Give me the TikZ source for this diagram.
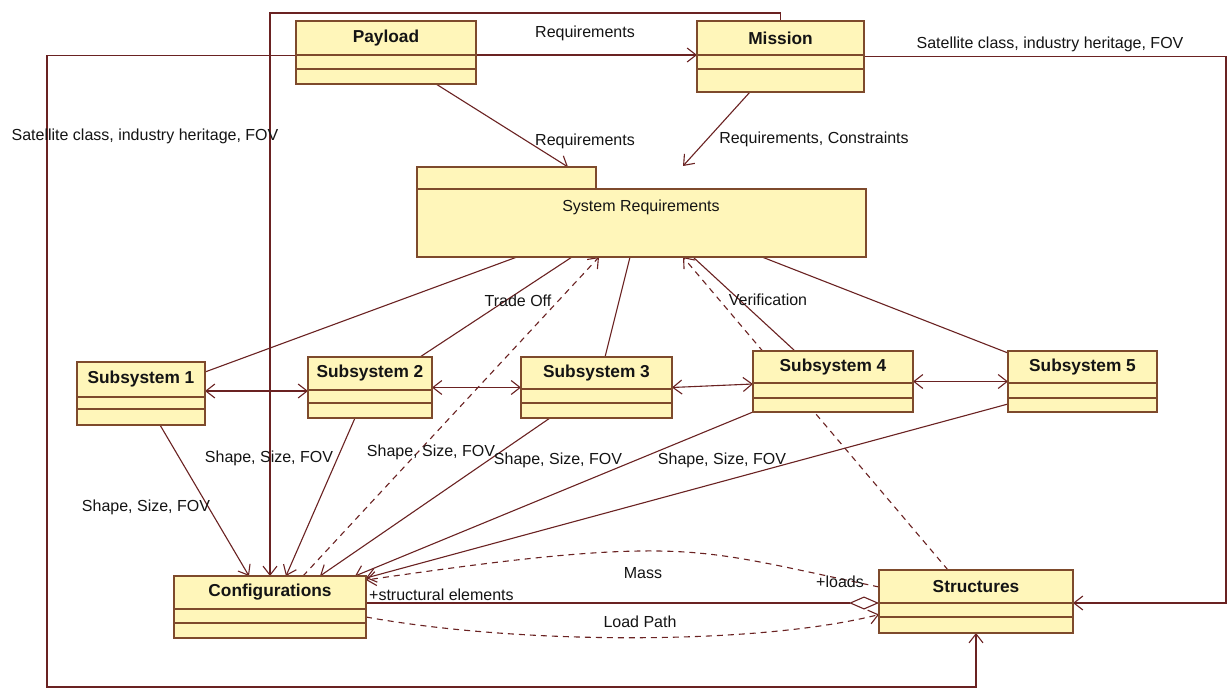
\documentclass[tikz,border=0pt]{standalone}
\usepackage{fontspec}
\setmainfont{Liberation Sans}
\usetikzlibrary{arrows.meta,backgrounds}

\definecolor{umlfill}{HTML}{FFF6BA}
\definecolor{umledge}{HTML}{7E4A2C}
\definecolor{wirecol}{HTML}{6A2222}
\definecolor{ink}{HTML}{141414}

\tikzset{
  umlcls/.style={rectangle, draw=umledge, fill=umlfill, line width=1.4pt, inner sep=0pt, outer sep=0pt},
  umlsep/.style={draw=umledge, line width=1.4pt},
  umltitle/.style={font=\fontsize{17.3}{19}\selectfont\bfseries, text=ink, inner sep=0pt},
  lbl/.style={font=\fontsize{16}{18}\selectfont, text=ink, inner sep=0pt},
  wire/.style={draw=wirecol, line width=1.1pt},
  dwire/.style={wire, dash pattern=on 6pt off 5pt},
  tip/.style={-{Straight Barb[length=9pt,width=14pt]}},
  bitip/.style={{Straight Barb[length=9pt,width=14pt]}-{Straight Barb[length=9pt,width=14pt]}},
  agg/.style={-{Diamond[length=30pt,width=13pt,fill=white]}},
}

% class box: name, x1, y1, x2, y2, first separator, second separator, title
\newcommand{\umlclass}[8]{%
  \node[umlcls, anchor=north west, minimum width={#4-#2}, minimum height={#5-#3}] (#1) at (#2,#3) {};
  \draw[umlsep] (#2,#6) -- (#4,#6) (#2,#7) -- (#4,#7);
  \node[umltitle] (#1-t) at ({(#2+#4)/2},{(#3+#6)/2}) {#8};}

\begin{document}
\begin{tikzpicture}[x=1pt,y=-1pt]
\useasboundingbox (0,0) rectangle (1229,690);

% classes
\umlclass{pay}{296}{21}{476}{84}{55}{69}{Payload}
\umlclass{mis}{697}{21}{864}{92}{55}{69}{Mission}
\umlclass{sa}{77}{362}{205}{425}{397}{409}{Subsystem 1}
\umlclass{sb}{308}{357}{432}{418}{390}{403}{Subsystem 2}
\umlclass{sc}{521}{357}{672}{418}{389}{403}{Subsystem 3}
\umlclass{sd}{753}{351}{913}{412}{383}{398}{Subsystem 4}
\umlclass{se}{1008}{351}{1157}{412}{383}{398}{Subsystem 5}
\umlclass{conf}{174}{576}{366}{638}{609}{623}{Configurations}
\umlclass{str}{879}{570}{1073}{633}{603}{617}{Structures}

% package
\node[umlcls, anchor=north west, minimum width=179, minimum height=22] (tab) at (417,167) {};
\node[umlcls, anchor=north west, minimum width=449, minimum height=68] (sys) at (417,189) {};
\node[lbl] (sys-t) at (641,207) {System Requirements};

\begin{pgfonlayer}{background}
\fill[white] (0,0) rectangle (1229,690);
\coordinate (reqpt) at (683,166);
\coordinate (railR) at (1226,0);
\coordinate (railL) at (47,687);
\coordinate (railT) at (0,13);

% top level
\draw[wire,tip] ([yshift=-2.5pt]pay.east) -- ([yshift=1.5pt]mis.west);
\draw[wire,tip] ([xshift=50pt]pay.south) -- ([xshift=61.5pt]tab.north);
\draw[wire,tip] ([xshift=-30.5pt]mis.south) -- (reqpt);
\draw[wire,tip] (mis.east) -- (mis.east -| railR) |- ([yshift=-1.5pt]str.east);
\draw[wire,tip] ([yshift=-3pt]pay.west) -| (railL) -| (str.south);
\draw[wire,tip] (mis.north) |- (conf.north |- railT) -- (conf.north);

% subsystems to requirements
\draw[wire] ([yshift=-10pt]sa.north east) -- ([xshift=-124.5pt]sys.south);
\draw[wire] ([xshift=50pt]sb.north) -- ([xshift=-69.5pt]sys.south);
\draw[wire] ([xshift=8.5pt]sc.north) -- ([xshift=-11.5pt]sys.south);
\draw[wire] ([xshift=-38pt]sd.north) -- ([xshift=51.5pt]sys.south);
\draw[wire] ([yshift=-2pt]se.north west) -- ([xshift=120.5pt]sys.south);
\draw[dwire,tip] ([xshift=33pt]conf.north) -- ([xshift=-42.5pt]sys.south);
\draw[dwire,tip] ([xshift=-28pt]str.north) -- ([xshift=41.5pt]sys.south);

% subsystem chain
\draw[wire,bitip] ([yshift=2.5pt]sa.east) -- ([yshift=-3.5pt]sb.west);
\draw[wire,bitip] (sb.east) -- (sc.west);
\draw[wire,bitip] (sc.east) -- ([yshift=-2.5pt]sd.west);
\draw[wire,bitip] (sd.east) -- (se.west);

% subsystems to configurations
\draw[wire,tip] ([xshift=19pt]sa.south) -- ([xshift=-21pt]conf.north);
\draw[wire,tip] ([xshift=-15pt]sb.south) -- ([xshift=16pt]conf.north);
\draw[wire,tip] ([xshift=-46.5pt]sc.south) -- ([xshift=50pt]conf.north);
\draw[wire,tip] (sd.south west) -- ([xshift=85pt]conf.north);
\draw[wire,tip] ([yshift=8pt]se.south west) -- ([yshift=-2pt]conf.north east);

% configurations <-> structures
\draw[dwire,tip] ([yshift=14.5pt]str.west) .. controls (760,562) and (720,550) .. (640,551)
  .. controls (560,552) and (450,568) .. ([yshift=27pt]conf.east);
\draw[wire,agg] ([yshift=4pt]conf.east) -- ([yshift=-1.5pt]str.west);
\draw[dwire,tip] ([yshift=-10pt]conf.east) .. controls (520,645) and (760,645) .. ([yshift=-13pt]str.west);
\end{pgfonlayer}

% labels
\node[lbl] (q1) at (585,33) {Requirements};
\node[lbl] (q2) at (585,141) {Requirements};
\node[lbl] (q3) at (814,139) {Requirements, Constraints};
\node[lbl] (h1) at (1050,44) {Satellite class, industry heritage, FOV};
\node[lbl] (h2) at (145,136) {Satellite class, industry heritage, FOV};
\node[lbl] (to) at (518,301) {Trade Off};
\node[lbl] (vf) at (768,300) {Verification};
\node[lbl] (f1) at (146,507) {Shape, Size, FOV};
\node[lbl] (f2) at (269,458) {Shape, Size, FOV};
\node[lbl] (f3) at (431,452) {Shape, Size, FOV};
\node[lbl] (f4) at (558,460) {Shape, Size, FOV};
\node[lbl] (f5) at (722,460) {Shape, Size, FOV};
\node[lbl] (ms) at (643,573) {Mass};
\node[lbl] (lp) at (640,622) {Load Path};
\node[lbl] (ld) at (840,582) {+loads};
\node[lbl, anchor=west] (se-l) at (369,595) {+structural elements};
\end{tikzpicture}
\end{document}
